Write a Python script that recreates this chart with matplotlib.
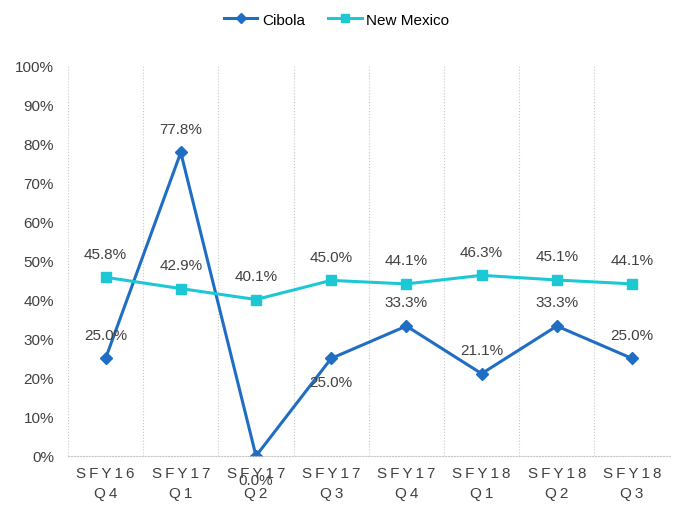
import matplotlib
matplotlib.use('Agg')
import matplotlib.pyplot as plt
from matplotlib.ticker import FuncFormatter

plt.rcParams['font.family'] = ['Liberation Sans', 'DejaVu Sans']

quarters = ['SFY16\nQ4', 'SFY17\nQ1', 'SFY17\nQ2', 'SFY17\nQ3',
            'SFY17\nQ4', 'SFY18\nQ1', 'SFY18\nQ2', 'SFY18\nQ3']
cibola = [25.0, 77.8, 0.0, 25.0, 33.3, 21.1, 33.3, 25.0]
new_mexico = [45.8, 42.9, 40.1, 45.0, 44.1, 46.3, 45.1, 44.1]
# label placement for Cibola: +1 above, -1 below
cibola_side = [1, 1, -1, -1, 1, 1, 1, 1]

blue = '#1f6ec4'
cyan = '#1cc8d4'
text_col = '#404040'

fig = plt.figure(figsize=(6.73, 5.10), dpi=100)
ax = fig.add_axes([0.101, 0.104, 0.894, 0.765])

x = list(range(len(quarters)))
ax.plot(x, cibola, color=blue, lw=2.2, marker='D', ms=6, label='Cibola')
ax.plot(x, new_mexico, color=cyan, lw=2.2, marker='s', ms=7, label='New Mexico')

for i, v in enumerate(new_mexico):
    ax.annotate(f'{v:.1f}%', (i, v), xytext=(0, 12), textcoords='offset points',
                ha='center', va='bottom', fontsize=11, color=text_col)
for i, v in enumerate(cibola):
    off = 12 if cibola_side[i] > 0 else -12
    ax.annotate(f'{v:.1f}%', (i, v), xytext=(0, off), textcoords='offset points',
                ha='center', va='bottom' if off > 0 else 'top',
                fontsize=11, color=text_col)

ax.set_xlim(-0.5, len(quarters) - 0.5)
ax.set_ylim(0, 100)
ax.set_yticks(range(0, 101, 10))
ax.yaxis.set_major_formatter(FuncFormatter(lambda v, p: f'{v:.0f}%'))
ax.set_xticks(x)
# letter-spaced tick labels like the original
spaced = ['\n'.join('\u2009'.join(part) for part in q.split('\n')) for q in quarters]
ax.set_xticklabels(spaced, fontsize=11, color=text_col, linespacing=1.6)
ax.tick_params(axis='y', labelsize=11, labelcolor=text_col, length=0, pad=10)
ax.tick_params(axis='x', length=0, pad=7)

for b in [i + 0.5 for i in range(-1, len(quarters))]:
    ax.axvline(b, color='#c8c8c8', lw=0.8, ls=':', zorder=0)

for s in ['top', 'right', 'left']:
    ax.spines[s].set_visible(False)
ax.spines['bottom'].set_color('#c8c8c8')
ax.spines['bottom'].set_linestyle(':')

fig.legend(loc='upper center', bbox_to_anchor=(0.5, 1.0), ncol=2, frameon=False,
           fontsize=11, handlelength=2.2, columnspacing=1.5, handletextpad=0.3,
           markerscale=0.8)

fig.savefig('out.png', dpi=100)
